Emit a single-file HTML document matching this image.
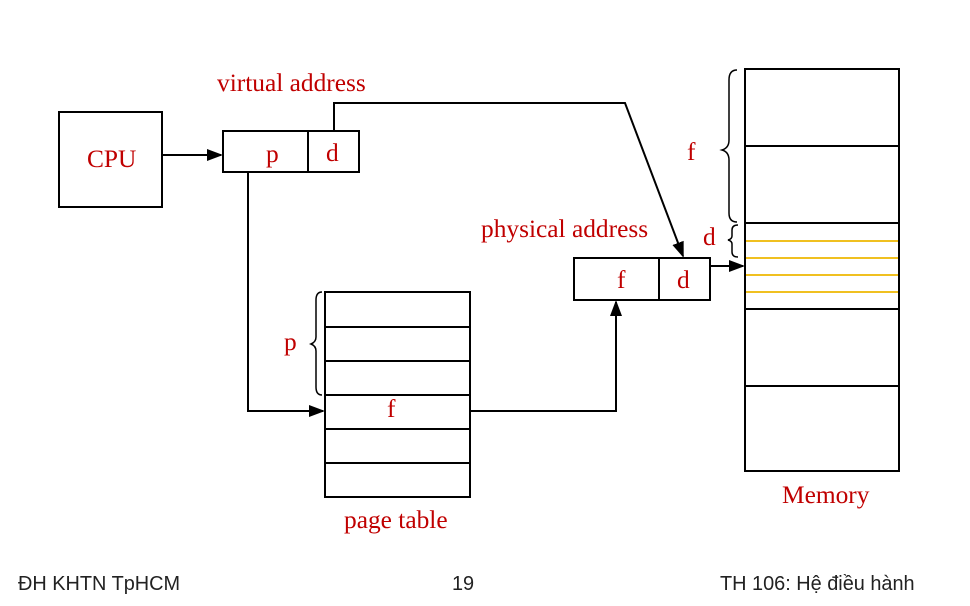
<!DOCTYPE html>
<html><head><meta charset="utf-8"><style>
body{margin:0;background:#fff;width:970px;height:606px;overflow:hidden}
svg{display:block}
.t{font-family:"Liberation Serif",serif;fill:#c00000;font-size:25.4px}
.f{font-family:"Liberation Sans",sans-serif;fill:#222;font-size:19.9px}
</style></head><body>
<svg width="970" height="606" viewBox="0 0 970 606">
<defs><marker id="a" markerWidth="8" markerHeight="8" refX="7" refY="4" orient="auto"><path d="M0,1 L8,4 L0,7z" fill="#000"/></marker></defs>
<g stroke="#000" stroke-width="2" fill="none">
<rect x="59" y="112" width="103" height="95"/>
<rect x="223" y="131" width="136" height="41"/>
<line x1="308" y1="131" x2="308" y2="172"/>
<rect x="574" y="258" width="136" height="42"/>
<line x1="659" y1="258" x2="659" y2="300"/>
<rect x="325" y="292" width="145" height="205"/>
<line x1="325" y1="327" x2="470" y2="327"/><line x1="325" y1="361" x2="470" y2="361"/>
<line x1="325" y1="395" x2="470" y2="395"/><line x1="325" y1="429" x2="470" y2="429"/>
<line x1="325" y1="463" x2="470" y2="463"/>
<rect x="745" y="69" width="154" height="402"/>
<line x1="745" y1="146" x2="899" y2="146"/><line x1="745" y1="223" x2="899" y2="223"/>
<line x1="745" y1="309" x2="899" y2="309"/><line x1="745" y1="386" x2="899" y2="386"/>
</g>
<g stroke="#f0c020" stroke-width="2">
<line x1="746" y1="241" x2="898" y2="241"/><line x1="746" y1="258" x2="898" y2="258"/>
<line x1="746" y1="275" x2="898" y2="275"/><line x1="746" y1="292" x2="898" y2="292"/>
</g>
<g stroke="#000" stroke-width="2" fill="none">
<path d="M162,155 H221" marker-end="url(#a)"/>
<path d="M334,131 V103 H625 L683,256" marker-end="url(#a)"/>
<path d="M248,172 V411 H323" marker-end="url(#a)"/>
<path d="M470,411 H616 V302" marker-end="url(#a)"/>
<path d="M710,266 H743" marker-end="url(#a)"/>
</g>
<g stroke="#000" stroke-width="1.5" fill="none">
<path d="M737,70 Q729,70 729,80 V140 Q729,148 722,150 Q729,152 729,160 V213 Q729,222 737,222"/>
<path d="M738,225 Q732,225 732,230 V236 Q732,239 728,240 Q732,241 732,244 V252 Q732,257 738,257"/>
<path d="M322,292 Q316,292 316,300 V337 Q316,342 311,344 Q316,346 316,351 V387 Q316,395 322,395"/>
</g>
<text class="t" x="217" y="91">virtual address</text>
<text class="t" x="87" y="167">CPU</text>
<text class="t" x="266" y="162">p</text>
<text class="t" x="326" y="161">d</text>
<text class="t" x="481" y="237">physical address</text>
<text class="t" x="617" y="288">f</text>
<text class="t" x="677" y="288">d</text>
<text class="t" x="687" y="160">f</text>
<text class="t" x="703" y="245">d</text>
<text class="t" x="284" y="350">p</text>
<text class="t" x="387" y="417">f</text>
<text class="t" x="344" y="528">page table</text>
<text class="t" x="782" y="503">Memory</text>
<text class="f" x="18" y="590">ĐH KHTN TpHCM</text>
<text class="f" x="452" y="590">19</text>
<text class="f" x="720" y="590">TH 106: Hệ điều hành</text>
</svg>
</body></html>
